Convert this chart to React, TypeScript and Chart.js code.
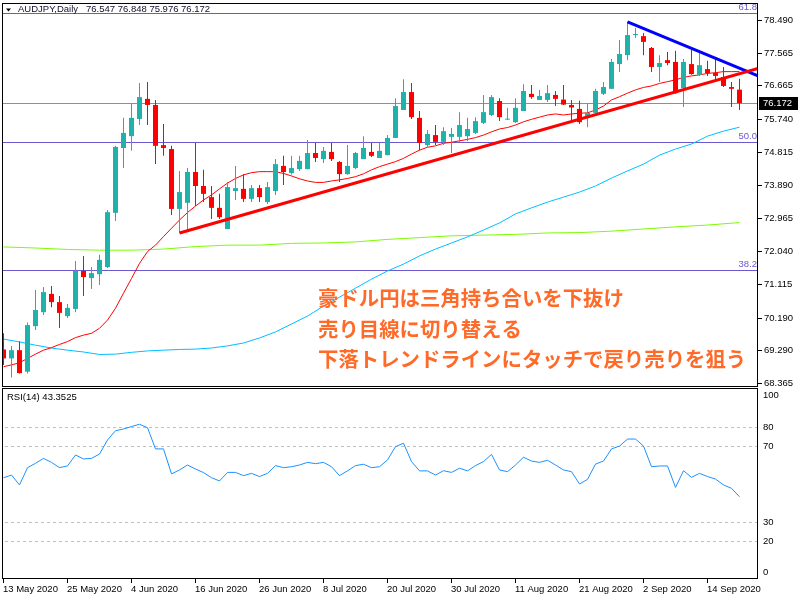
import { useEffect, useRef } from 'react';
import { Chart, registerables } from 'chart.js';

Chart.register(...registerables);

// ---- data ----
const opens = [69.30, 69.05, 69.28, 68.68, 69.95, 70.34, 70.85, 70.62, 70.23, 70.43, 71.49, 71.29, 71.40, 71.60, 73.11, 74.92, 75.25, 75.73, 76.29, 76.12, 75.00, 74.89, 73.22, 73.39, 74.25, 73.86, 73.55, 73.25, 72.66, 73.72, 73.78, 73.50, 73.80, 73.41, 73.72, 74.42, 74.22, 74.33, 74.33, 74.78, 74.61, 74.81, 74.53, 74.19, 74.36, 74.61, 74.81, 74.64, 74.72, 75.20, 75.98, 76.48, 75.76, 75.00, 75.28, 75.09, 75.23, 75.23, 75.25, 75.34, 75.62, 75.84, 76.23, 75.71, 75.64, 75.95, 76.43, 76.26, 76.26, 76.40, 76.27, 76.12, 76.01, 75.76, 75.90, 76.43, 76.57, 77.26, 77.51, 78.07, 78.04, 77.71, 77.18, 77.37, 77.32, 76.59, 77.26, 76.96, 77.12, 77.01, 76.90, 76.62, 76.547];
const highs = [69.75, 69.40, 69.52, 70.05, 70.96, 71.04, 71.07, 70.79, 70.57, 71.77, 71.91, 71.60, 71.94, 73.19, 74.98, 75.76, 76.17, 76.73, 76.76, 76.26, 75.59, 74.98, 74.28, 74.36, 75.06, 74.31, 73.86, 73.64, 73.97, 74.42, 74.19, 73.89, 73.89, 73.97, 74.61, 74.70, 74.70, 74.70, 75.14, 75.06, 74.95, 75.06, 74.56, 75.00, 74.81, 75.25, 75.06, 75.06, 75.28, 76.31, 76.84, 76.73, 75.95, 75.42, 75.56, 75.50, 75.48, 75.92, 75.76, 75.78, 76.40, 76.40, 76.31, 76.04, 76.31, 76.70, 76.68, 76.54, 76.68, 76.51, 76.68, 76.26, 76.24, 76.17, 76.57, 76.76, 77.40, 77.93, 78.44, 78.27, 78.13, 77.74, 77.51, 77.60, 77.63, 77.40, 77.68, 77.63, 77.35, 77.46, 77.18, 76.76, 76.848];
const lows = [68.87, 68.52, 68.63, 68.63, 69.84, 70.26, 70.48, 69.90, 70.18, 70.34, 70.79, 70.99, 71.10, 71.57, 72.88, 74.36, 74.84, 75.56, 75.56, 74.47, 74.70, 73.05, 72.55, 72.63, 73.30, 73.41, 72.94, 72.94, 72.66, 73.47, 73.41, 73.41, 73.41, 73.36, 73.61, 73.89, 74.17, 74.28, 74.33, 74.53, 74.50, 74.56, 73.97, 74.17, 74.33, 74.61, 74.67, 74.64, 74.72, 75.20, 75.98, 75.73, 74.86, 74.95, 75.00, 75.00, 74.78, 75.09, 75.11, 75.31, 75.59, 75.81, 75.67, 75.70, 75.62, 75.95, 76.29, 76.26, 76.20, 76.09, 76.12, 75.62, 75.59, 75.50, 75.84, 76.40, 76.57, 77.04, 77.37, 77.99, 77.51, 77.04, 76.76, 77.23, 76.43, 76.06, 76.96, 76.93, 76.93, 76.82, 76.62, 76.06, 75.976];
const closes = [69.05, 69.28, 68.64, 69.98, 70.40, 70.90, 70.62, 70.32, 70.46, 71.49, 71.32, 71.43, 71.80, 73.13, 74.95, 75.34, 75.76, 76.34, 76.12, 74.98, 74.92, 73.22, 73.69, 74.25, 73.86, 73.64, 73.25, 72.99, 73.83, 73.80, 73.50, 73.80, 73.55, 73.83, 74.47, 74.25, 74.36, 74.56, 74.78, 74.64, 74.84, 74.61, 74.19, 74.42, 74.78, 74.92, 74.70, 74.84, 75.20, 76.09, 76.48, 75.78, 75.06, 75.31, 75.09, 75.39, 75.31, 75.56, 75.45, 75.67, 75.92, 76.34, 75.78, 75.73, 76.04, 76.51, 76.34, 76.37, 76.45, 76.29, 76.13, 76.05, 75.64, 75.90, 76.51, 76.62, 77.32, 77.54, 78.07, 78.10, 77.88, 77.18, 77.29, 77.29, 76.45, 77.32, 76.98, 77.23, 77.01, 76.93, 76.65, 76.57, 76.172];

const maRed = [68.82, 68.87, 68.93, 69.05, 69.17, 69.28, 69.35, 69.44, 69.52, 69.63, 69.70, 69.75, 69.89, 70.12, 70.45, 70.87, 71.28, 71.70, 72.03, 72.21, 72.45, 72.68, 72.91, 73.12, 73.30, 73.47, 73.61, 73.78, 73.94, 74.07, 74.17, 74.23, 74.26, 74.26, 74.26, 74.21, 74.14, 74.06, 74.00, 73.96, 73.96, 74.00, 74.03, 74.07, 74.12, 74.20, 74.31, 74.40, 74.47, 74.54, 74.63, 74.75, 74.86, 74.94, 74.98, 75.05, 75.08, 75.12, 75.16, 75.21, 75.28, 75.37, 75.45, 75.49, 75.56, 75.65, 75.72, 75.78, 75.84, 75.87, 75.84, 75.87, 75.89, 75.90, 75.98, 76.09, 76.26, 76.35, 76.45, 76.54, 76.61, 76.65, 76.72, 76.77, 76.82, 76.89, 76.93, 76.96, 77.00, 77.02, 77.05, 77.05, 77.05];

const maBlueBars = [0, 2, 4, 6, 8, 10, 12, 14, 16, 18, 20, 22, 24, 26, 28, 30, 32, 34, 36, 38, 40, 42, 44, 46, 48, 50, 52, 54, 56, 58, 60, 62, 64, 66, 68, 70, 72, 74, 76, 78, 80, 82, 84, 86, 88, 90, 92];
const maBlue = [69.59, 69.51, 69.42, 69.34, 69.28, 69.23, 69.16, 69.17, 69.22, 69.26, 69.28, 69.30, 69.31, 69.34, 69.40, 69.48, 69.62, 69.79, 70.01, 70.23, 70.51, 70.76, 71.01, 71.26, 71.49, 71.68, 71.91, 72.10, 72.27, 72.44, 72.63, 72.83, 73.08, 73.25, 73.41, 73.55, 73.69, 73.86, 74.08, 74.28, 74.47, 74.72, 74.89, 75.03, 75.25, 75.39, 75.50];

const maGreenBars = [0, 4, 8, 12, 16, 20, 24, 28, 32, 36, 40, 44, 48, 52, 56, 60, 64, 68, 72, 76, 80, 84, 88, 92];
const maGreen = [72.16, 72.13, 72.09, 72.07, 72.07, 72.10, 72.17, 72.21, 72.21, 72.26, 72.27, 72.30, 72.37, 72.42, 72.47, 72.49, 72.51, 72.55, 72.56, 72.60, 72.66, 72.72, 72.77, 72.84];

const rsi = [53.4, 54.8, 49.6, 58.7, 61.0, 63.6, 61.5, 58.7, 59.6, 65.4, 63.3, 63.6, 65.9, 73.3, 78.2, 79.1, 80.4, 81.6, 79.8, 68.6, 68.6, 55.4, 57.5, 60.1, 58.0, 56.1, 53.4, 51.7, 56.2, 56.2, 54.5, 55.7, 54.0, 55.7, 59.8, 58.7, 59.2, 60.1, 61.5, 60.8, 61.5, 59.2, 54.5, 57.0, 59.8, 60.5, 58.7, 59.2, 62.8, 69.8, 71.6, 61.9, 57.0, 57.0, 54.8, 57.1, 56.2, 58.4, 57.0, 59.8, 61.9, 65.7, 57.5, 56.6, 60.1, 64.2, 62.2, 61.5, 62.6, 60.1, 57.5, 56.6, 50.1, 52.5, 60.6, 62.2, 68.6, 70.1, 73.8, 73.8, 70.1, 59.2, 59.6, 59.6, 48.3, 57.1, 53.6, 55.7, 54.0, 52.7, 49.6, 47.8, 43.35];

const trendUpBars = [22, 94.3125];
const trendUpPrices = [72.55, 77.14];
const trendDownBars = [78, 94.3125];
const trendDownPrices = [78.44, 76.93];

const fibLevels = [78.68, 75.08, 71.51];
const fibLabels = ['61.8', '50.0', '38.2'];
const lastPrice = 76.172;
const priceTicks = [78.49, 77.565, 76.665, 75.74, 74.815, 73.89, 72.965, 72.04, 71.115, 70.19, 69.29, 68.365];

const rsiLevels = [80, 70, 30, 20];
const rsiTicks = [100, 80, 70, 30, 20, 0];

const xTickBars = [0, 8, 16, 24, 32, 40, 48, 56, 64, 72, 80, 88];
const xTickLabels = ['13 May 2020', '25 May 2020', '4 Jun 2020', '16 Jun 2020', '26 Jun 2020', '8 Jul 2020', '20 Jul 2020', '30 Jul 2020', '11 Aug 2020', '21 Aug 2020', '2 Sep 2020', '14 Sep 2020'];

const headerSymbol = 'AUDJPY,Daily';
const headerOHLC = '76.547 76.848 75.976 76.172';
const rsiTitle = 'RSI(14) 43.3525';
const noteLines = ['豪ドル円は三角持ち合いを下抜け', '売り目線に切り替える', '下落トレンドラインにタッチで戻り売りを狙う'];

// ---- styles ----
const BULL = '#20B2AA';
const BEAR = '#FF0000';
const FIB = '#6A5ACD';
const SMALL = "9.5px 'Liberation Sans', Arial, sans-serif";
const X_MIN = -0.1875;
const X_MAX = 94.3125;

const pts = (xs: number[], ys: number[]) => xs.map((x, i) => ({ x, y: ys[i] }));
const seq = (ys: number[]) => ys.map((y, i) => ({ x: i, y }));

export default function App() {
  const mainRef = useRef<HTMLCanvasElement>(null);
  const rsiRef = useRef<HTMLCanvasElement>(null);

  useEffect(() => {
    const colors = closes.map((c, i) => (c >= opens[i] ? BULL : BEAR));

    const mainDecor = {
      id: 'mainDecor',
      beforeDatasetsDraw(chart: any) {
        const { ctx, chartArea: a, scales } = chart;
        const y = scales.y;
        ctx.save();
        ctx.lineWidth = 1;
        ctx.strokeStyle = FIB;
        fibLevels.forEach((v) => {
          const py = Math.round(y.getPixelForValue(v)) + 0.5;
          ctx.beginPath();
          ctx.moveTo(a.left, py);
          ctx.lineTo(a.right, py);
          ctx.stroke();
        });
        ctx.fillStyle = FIB;
        ctx.font = SMALL;
        ctx.textAlign = 'right';
        ctx.textBaseline = 'bottom';
        fibLevels.forEach((v, k) => {
          ctx.fillText(fibLabels[k], a.right - 1, y.getPixelForValue(v) - 1);
        });
        ctx.strokeStyle = '#8A9096';
        const lp = Math.round(y.getPixelForValue(lastPrice)) + 0.5;
        ctx.beginPath();
        ctx.moveTo(a.left, lp);
        ctx.lineTo(a.right, lp);
        ctx.stroke();
        ctx.restore();
      },
      afterDatasetsDraw(chart: any) {
        const { ctx } = chart;
        ctx.save();
        ctx.fillStyle = '#FF6A28';
        ctx.font = "bold 20.4px 'Noto Sans CJK JP', sans-serif";
        ctx.textAlign = 'left';
        ctx.textBaseline = 'middle';
        noteLines.forEach((t, k) => ctx.fillText(t, 318, 298.5 + k * 30.3));
        ctx.restore();
      },
      afterDraw(chart: any) {
        const { ctx, chartArea: a, scales } = chart;
        const y = scales.y;
        ctx.save();
        ctx.strokeStyle = '#000';
        ctx.lineWidth = 1;
        ctx.strokeRect(Math.floor(a.left) + 0.5, Math.floor(a.top) + 0.5, Math.round(a.right - a.left) - 1, Math.round(a.bottom - a.top) - 1);
        ctx.font = SMALL;
        ctx.fillStyle = '#000';
        ctx.textAlign = 'left';
        ctx.textBaseline = 'middle';
        priceTicks.forEach((v) => {
          const py = Math.round(y.getPixelForValue(v)) + 0.5;
          ctx.beginPath();
          ctx.moveTo(a.right, py);
          ctx.lineTo(a.right + 4, py);
          ctx.stroke();
          ctx.fillText(v.toFixed(3), a.right + 6, py);
        });
        const lp = y.getPixelForValue(lastPrice);
        ctx.fillStyle = '#000';
        ctx.fillRect(a.right + 1, Math.round(lp) - 6, 39, 13);
        ctx.fillStyle = '#fff';
        ctx.fillText(lastPrice.toFixed(3), a.right + 5, Math.round(lp) + 0.5);
        // header
        ctx.fillStyle = '#000';
        ctx.beginPath();
        ctx.moveTo(6, 8.5);
        ctx.lineTo(11, 8.5);
        ctx.lineTo(8.5, 11.5);
        ctx.closePath();
        ctx.fill();
        ctx.fillStyle = '#10102a';
        ctx.fillText(headerSymbol, 18, 9.5);
        ctx.fillText(headerOHLC, 86, 9.5);
        ctx.restore();
      },
    };

    const rsiDecor = {
      id: 'rsiDecor',
      beforeDatasetsDraw(chart: any) {
        const { ctx, chartArea: a, scales } = chart;
        ctx.save();
        ctx.strokeStyle = '#C0C0C0';
        ctx.lineWidth = 1;
        ctx.setLineDash([3, 3]);
        rsiLevels.forEach((v) => {
          const py = Math.round(scales.y.getPixelForValue(v)) + 0.5;
          ctx.beginPath();
          ctx.moveTo(a.left + 3, py);
          ctx.lineTo(a.right, py);
          ctx.stroke();
        });
        ctx.restore();
      },
      afterDraw(chart: any) {
        const { ctx, chartArea: a, scales } = chart;
        ctx.save();
        ctx.strokeStyle = '#000';
        ctx.lineWidth = 1;
        ctx.strokeRect(Math.floor(a.left) + 0.5, Math.floor(a.top) + 0.5, Math.round(a.right - a.left) - 1, Math.round(a.bottom - a.top) - 1);
        ctx.font = SMALL;
        ctx.fillStyle = '#000';
        ctx.textBaseline = 'middle';
        ctx.textAlign = 'left';
        rsiTicks.forEach((v) => {
          let py = scales.y.getPixelForValue(v);
          py = Math.min(Math.max(py, a.top + 7), a.bottom - 7);
          ctx.fillText(String(v), a.right + 5, py);
        });
        xTickBars.forEach((b, k) => {
          const px = Math.floor(scales.x.getPixelForValue(b)) + 0.5;
          ctx.beginPath();
          ctx.moveTo(px, a.bottom - 1);
          ctx.lineTo(px, a.bottom + 4);
          ctx.stroke();
          ctx.fillText(xTickLabels[k], px - 0.5, a.bottom + 10);
        });
        ctx.fillText(rsiTitle, 7, a.top + 9.5);
        ctx.restore();
      },
    };

    const common = {
      type: 'line' as const,
      options: {
        responsive: false,
        animation: false as const,
        devicePixelRatio: 1,
        events: [] as any[],
        plugins: { legend: { display: false }, tooltip: { enabled: false } },
      },
    };

    const xScale = { type: 'linear', min: X_MIN, max: X_MAX, offset: false, grid: { offset: false }, display: false };

    const mainChart = new Chart(mainRef.current as HTMLCanvasElement, {
      ...common,
      data: {
        datasets: [
          { type: 'line', data: pts(trendUpBars, trendUpPrices), borderColor: '#FF0000', borderWidth: 3, pointRadius: 0, order: 0 },
          { type: 'line', data: pts(trendDownBars, trendDownPrices), borderColor: '#0000FF', borderWidth: 3, pointRadius: 0, order: 0 },
          { type: 'bar', data: opens.map((o, i) => ({ x: i, y: [o, closes[i]] })), backgroundColor: colors, barThickness: 5, minBarLength: 1, grouped: false, borderWidth: 0, inflateAmount: 0, order: 1 } as any,
          { type: 'bar', data: lows.map((l, i) => ({ x: i, y: [l, highs[i]] })), backgroundColor: colors, barThickness: 1, grouped: false, borderWidth: 0, inflateAmount: 0, order: 2 } as any,
          { type: 'line', data: seq(maRed), borderColor: '#FF0000', borderWidth: 1, pointRadius: 0, order: 3 },
          { type: 'line', data: pts(maBlueBars, maBlue), borderColor: '#00BFFF', borderWidth: 1, pointRadius: 0, order: 3 },
          { type: 'line', data: pts(maGreenBars, maGreen), borderColor: '#7CFC00', borderWidth: 1, pointRadius: 0, order: 3 },
        ],
      },
      options: {
        ...common.options,
        layout: { padding: { left: 2, right: 42, top: 3, bottom: 2 } },
        scales: {
          x: xScale,
          y: { type: 'linear', min: 68.253, max: 78.964, beginAtZero: false, display: false },
        },
      },
      plugins: [mainDecor],
    } as any);

    const rsiChart = new Chart(rsiRef.current as HTMLCanvasElement, {
      ...common,
      data: {
        datasets: [
          { type: 'line', data: seq(rsi), borderColor: '#1E90FF', borderWidth: 1, pointRadius: 0 },
        ],
      },
      options: {
        ...common.options,
        layout: { padding: { left: 2, right: 42, top: 2, bottom: 21 } },
        scales: {
          x: xScale,
          y: { type: 'linear', min: -0.05, max: 100.74, display: false },
        },
      },
      plugins: [rsiDecor],
    } as any);

    return () => {
      mainChart.destroy();
      rsiChart.destroy();
    };
  }, []);

  return (
    <div style={{ position: 'absolute', left: 0, top: 0, width: 800, height: 600, background: '#fff' }}>
      <canvas ref={mainRef} width={800} height={389} style={{ position: 'absolute', left: 0, top: 0 }} />
      <canvas ref={rsiRef} width={800} height={214} style={{ position: 'absolute', left: 0, top: 386 }} />
    </div>
  );
}
